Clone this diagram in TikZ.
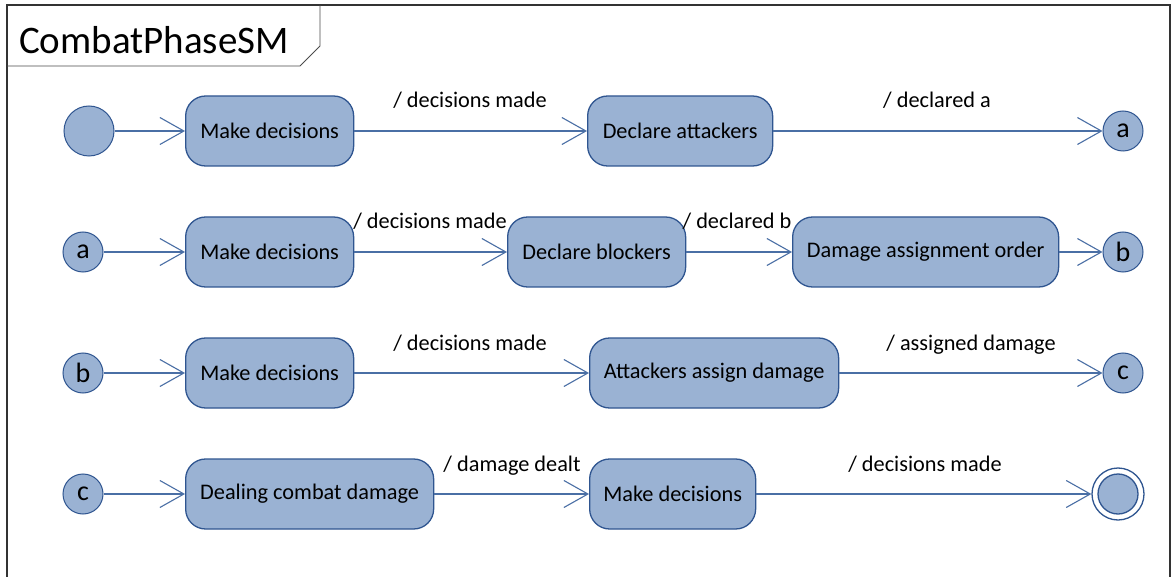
\documentclass[tikz,border=0pt]{standalone}
\usepackage{fontspec}
\setmainfont{Carlito}
\usetikzlibrary{arrows.meta}
\definecolor{stfill}{HTML}{9AB2D3}
\definecolor{stdraw}{HTML}{2F5590}
\definecolor{edgecol}{HTML}{4A6FA5}
\begin{document}
\begin{tikzpicture}[x=1pt,y=-1pt,
  font=\fontsize{22.3}{26}\selectfont,
  state/.style={draw=stdraw,line width=1.3pt,fill=stfill,rounded corners=20pt,minimum height=70pt,inner sep=0pt,anchor=west},
  conn/.style={circle,draw=stdraw,line width=1pt,fill=stfill,minimum size=40pt,inner sep=0pt,font=\fontsize{28}{30}\selectfont},
  trans/.style={draw=edgecol,line width=1.1pt,-{Straight Barb[length=24pt,width=27pt,line width=1.1pt]}},
  lbl/.style={inner sep=0pt,anchor=base}]
\useasboundingbox (0,0) rectangle (1175,577);
\fill[white] (0,0) rectangle (1175,577);
% frame
\draw[line width=1.2pt,black!80] (7,590) -- (7,5) -- (1170,5) -- (1170,590);
\draw[line width=0.8pt,black!70] (7,66) -- (300,66) -- (320,46) -- (320,5);
\node[anchor=base west,inner sep=0pt,font=\fontsize{39}{44}\selectfont] (title) at (19,54) {CombatPhaseSM};
% row 1
\node[circle,draw=stdraw,line width=1pt,fill=stfill,minimum size=50pt,inner sep=0pt] (init) at (89,131) {};
\node[state,minimum width=168pt] (md1) at (185,131) {Make decisions};
\node[state,minimum width=185pt] (da) at (587,131) {Declare attackers};
\node[conn] (a1) at (1123,131) {a};
\draw[trans] (init) -- (md1);
\draw[trans] (md1) -- (da);
\draw[trans] (da) -- (a1);
\node[lbl] (l1) at (470,108) {/ decisions made};
\node[lbl] (l2) at (937,108) {/ declared a};
% row 2
\node[conn] (a2) at (83,252) {a};
\node[state,minimum width=168pt] (md2) at (185,252) {Make decisions};
\node[state,minimum width=178pt] (db) at (507,252) {Declare blockers};
\node[state,minimum width=266pt] (dao) at (792,252) {Damage assignment order};
\node[conn] (b1) at (1123,252) {b};
\draw[trans] (a2) -- (md2);
\draw[trans] (md2) -- (db);
\draw[trans] (db) -- (dao);
\draw[trans] (dao) -- (b1);
\node[lbl] (l3) at (430,229) {/ decisions made};
\node[lbl] (l4) at (737,229) {/ declared b};
% row 3
\node[conn] (b2) at (83,373) {b};
\node[state,minimum width=168pt] (md3) at (185,373) {Make decisions};
\node[state,minimum width=249pt] (aad) at (589,373) {Attackers assign damage};
\node[conn] (c1) at (1123,373) {c};
\draw[trans] (b2) -- (md3);
\draw[trans] (md3) -- (aad);
\draw[trans] (aad) -- (c1);
\node[lbl] (l5) at (470,350) {/ decisions made};
\node[lbl] (l6) at (971,350) {/ assigned damage};
% row 4
\node[conn] (c2) at (83,494) {c};
\node[state,minimum width=248pt] (dcd) at (185,494) {Dealing combat damage};
\node[state,minimum width=166pt] (md4) at (589,494) {Make decisions};
\node[circle,draw=stdraw,line width=1.3pt,fill=white,minimum size=52pt,inner sep=0pt] (fin) at (1118,494) {};
\node[circle,draw=stdraw,line width=1.3pt,fill=stfill,minimum size=40pt,inner sep=0pt] (fininner) at (fin) {};
\draw[trans] (c2) -- (dcd);
\draw[trans] (dcd) -- (md4);
\draw[trans] (md4) -- (fin);
\node[lbl] (l7) at (512,471) {/ damage dealt};
\node[lbl] (l8) at (925,471) {/ decisions made};
\end{tikzpicture}
\end{document}
